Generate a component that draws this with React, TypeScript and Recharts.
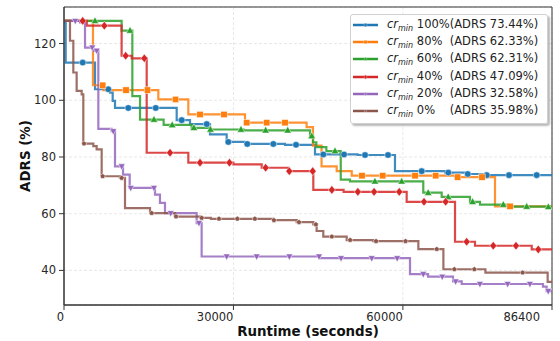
import React from 'react'
import { ComposedChart, Line, XAxis, YAxis, CartesianGrid, Legend, ReferenceArea } from 'recharts'

type Pt = [number, number]

const FONT = '"DejaVu Sans", sans-serif'

const xTicks = [0, 30000, 60000, 86400]
const yTicks = [40, 60, 80, 100, 120]
const yDomain: [number, number] = [27.8, 132.9]

// legend labels, padded like the original so "(ADRS" lines up
const crLevels = ['100%', '80%  ', '60%  ', '40%  ', '20%  ', '0%    ']
const adrsFinal = ['73.44%', '62.33%', '62.31%', '47.09%', '32.58%', '35.98%']

// step breakpoints [runtime s, ADRS %]
const blueSteps: Pt[] = [
  [0, 127.4], [300, 113.3], [5490, 103.9], [8140, 102.7], [8620, 99.8], [9030, 97.3],
  [19950, 93.0], [22310, 91.6], [25850, 88.0], [28800, 85.3], [32050, 84.6], [39130, 84.3],
  [44440, 80.9], [52000, 80.7], [58600, 75.0], [67500, 74.5], [71300, 74.0], [74700, 73.6],
  [86400, 73.44],
]
const blueMarks: Pt[] = [
  [3310, 113.3], [7840, 103.9], [11380, 97.3], [16240, 97.3], [20840, 93.0], [25270, 91.6],
  [29090, 85.3], [32450, 84.6], [37060, 84.6], [41080, 84.3], [45910, 80.9], [49580, 80.9],
  [53300, 80.7], [57370, 80.7], [63330, 75.0], [68040, 74.5], [71480, 74.0], [74840, 73.6],
  [78790, 73.6], [83690, 73.6],
]

const orangeSteps: Pt[] = [
  [0, 128], [5130, 105.3], [7000, 103.6], [16700, 100.3], [22010, 95.0], [32050, 92.1],
  [42950, 90.5], [44080, 84.0], [45600, 76.7], [48280, 75.0], [50940, 73.4], [69230, 72.9],
  [76310, 62.6], [86400, 62.33],
]
const orangeMarks: Pt[] = [
  [6850, 105.3], [10980, 103.6], [14780, 103.6], [19740, 100.3], [24080, 95.0], [28330, 95.0],
  [32350, 92.1], [35890, 92.1], [39130, 92.1], [52760, 73.4], [56430, 73.4], [62150, 73.4],
  [65810, 73.4], [69700, 72.9], [74010, 72.9], [78970, 62.6],
]

const greenSteps: Pt[] = [
  [0, 128], [10200, 124.6], [12100, 101.5], [13460, 93.2], [17640, 91.3], [22600, 90.3],
  [25850, 89.7], [31800, 89.4], [43560, 87.4], [44090, 85.2], [44680, 83.5], [46450, 82.1],
  [49000, 72.0], [50640, 71.4], [63610, 67.4], [66870, 65.9], [71880, 64.2], [73650, 63.2],
  [79000, 62.5], [86400, 62.31],
]
const greenMarks: Pt[] = [
  [5490, 128], [11690, 124.6], [15930, 93.2], [19160, 91.3], [23000, 90.3], [25930, 89.7],
  [31330, 89.7], [35700, 89.4], [39600, 89.4], [43860, 87.4], [47980, 82.1], [55050, 71.4],
  [59780, 71.4], [64480, 67.4], [68020, 65.9], [72340, 64.2], [77780, 63.2], [81920, 62.5],
  [85750, 62.4],
]

const redSteps: Pt[] = [
  [0, 128], [4040, 126.3], [10200, 115.7], [11990, 114.8], [14640, 81.5], [22010, 78.0],
  [30000, 77.4], [35000, 76.2], [39710, 75.0], [44140, 68.4], [49500, 67.7], [60670, 64.2],
  [69230, 50.1], [72770, 48.7], [82810, 47.4], [86400, 47.09],
]
const redMarks: Pt[] = [
  [3310, 128], [7140, 126.3], [10920, 115.7], [14220, 114.8], [18770, 81.5], [24080, 78.0],
  [29290, 78.0], [35700, 76.2], [39890, 75.0], [44030, 75.0], [47420, 68.4], [52020, 67.7],
  [54900, 67.7], [59360, 67.7], [63740, 64.2], [67570, 64.2], [71290, 50.1], [76000, 48.7],
  [80020, 48.7], [83970, 47.4],
]

const purpleSteps: Pt[] = [
  [0, 128], [2830, 127.5], [3720, 118.6], [5190, 117.5], [6080, 89.9], [8440, 89.1],
  [9030, 76.7], [10450, 73.8], [11630, 69.1], [16110, 66.7], [16990, 63.8], [17880, 60.2],
  [23490, 56.7], [24370, 44.9], [45320, 44.3], [61260, 38.7], [64450, 37.8], [68880, 36.1],
  [70420, 35.2], [84800, 34.3], [85450, 32.7], [86400, 32.58],
]
const purpleMarks: Pt[] = [
  [2000, 128], [5000, 118.6], [5790, 117.5], [8730, 89.1], [10210, 76.7], [11810, 69.1],
  [15930, 69.1], [18890, 60.2], [23900, 56.7], [28800, 44.9], [34110, 44.9], [39900, 44.9],
  [45150, 44.9], [49050, 44.3], [54480, 44.3], [58990, 44.3], [63610, 38.7], [66970, 37.8],
  [69340, 36.1], [73640, 35.2], [78540, 35.2], [82490, 35.2], [85730, 32.7],
]

const brownSteps: Pt[] = [
  [0, 128], [1060, 121.0], [1650, 109.8], [2240, 103.3], [3130, 102.1], [3420, 84.7],
  [5190, 83.8], [5780, 82.7], [6670, 73.2], [9900, 72.6], [10800, 62.0], [15230, 60.2],
  [19660, 59.0], [24080, 58.5], [26000, 58.2], [37060, 57.7], [41200, 57.0], [44140, 56.2],
  [44730, 53.9], [45910, 51.9], [50050, 50.7], [54760, 50.3], [62740, 47.5], [67170, 40.4],
  [74610, 39.2], [85630, 35.98], [86400, 35.98],
]
const brownMarks: Pt[] = [
  [3540, 84.7], [6850, 73.2], [10210, 72.6], [15530, 60.2], [19830, 59.0], [24380, 58.5],
  [27440, 58.2], [30690, 58.2], [33790, 58.2], [37170, 57.7], [41610, 57.0], [44600, 56.2],
  [47420, 51.9], [50660, 50.7], [55250, 50.3], [60470, 50.3], [66000, 47.5], [69110, 40.4],
  [72650, 40.4], [81200, 39.2],
]

type Shape = 'circle' | 'square' | 'triangle' | 'diamond' | 'triDown' | 'pentagon'

const series = [
  { key: 'c100', color: '#1f77b4', shape: 'circle' as Shape, steps: blueSteps, marks: blueMarks },
  { key: 'c80', color: '#ff7f0e', shape: 'square' as Shape, steps: orangeSteps, marks: orangeMarks },
  { key: 'c60', color: '#2ca02c', shape: 'triangle' as Shape, steps: greenSteps, marks: greenMarks },
  { key: 'c40', color: '#d62728', shape: 'diamond' as Shape, steps: redSteps, marks: redMarks },
  { key: 'c20', color: '#9467bd', shape: 'triDown' as Shape, steps: purpleSteps, marks: purpleMarks },
  { key: 'c0', color: '#8c564b', shape: 'pentagon' as Shape, steps: brownSteps, marks: brownMarks },
].map((s, i) => ({
  ...s,
  level: crLevels[i],
  adrs: adrsFinal[i],
  stepData: s.steps.map(([t, v]) => ({ t, v })),
  markData: s.marks.map(([t, v]) => ({ t, v })),
}))

function Marker({ cx, cy, color, shape, k = 1 }: { cx: number; cy: number; color: string; shape: Shape; k?: number }) {
  if (cx == null || cy == null || isNaN(cx) || isNaN(cy)) return null
  const common = { fill: color, stroke: '#fff', strokeWidth: 0.5 * k }
  switch (shape) {
    case 'circle':
      return <circle cx={cx} cy={cy} r={3.3 * k} {...common} />
    case 'square':
      return <rect x={cx - 3.2 * k} y={cy - 3.2 * k} width={6.4 * k} height={6.4 * k} {...common} />
    case 'triangle':
      return (
        <polygon
          points={`${cx},${cy - 4 * k} ${cx - 3.8 * k},${cy + 2.7 * k} ${cx + 3.8 * k},${cy + 2.7 * k}`}
          {...common}
        />
      )
    case 'diamond':
      return (
        <polygon
          points={`${cx},${cy - 4.3 * k} ${cx + 3.5 * k},${cy} ${cx},${cy + 4.3 * k} ${cx - 3.5 * k},${cy}`}
          {...common}
        />
      )
    case 'triDown':
      return (
        <polygon
          points={`${cx},${cy + 3.8 * k} ${cx - 3.4 * k},${cy - 2.5 * k} ${cx + 3.4 * k},${cy - 2.5 * k}`}
          {...common}
        />
      )
    default: {
      const r = 2.7 * k
      const pts = [0, 1, 2, 3, 4]
        .map((j) => {
          const a = -Math.PI / 2 + (j * 2 * Math.PI) / 5
          return `${cx + r * Math.cos(a)},${cy + r * Math.sin(a)}`
        })
        .join(' ')
      return <polygon points={pts} {...common} />
    }
  }
}

const XTick = (props: any) => {
  const { x, y, payload } = props
  return (
    <text x={x} y={y} dy="0.72em" textAnchor="end" fontSize={11.5} fill="#262626" fontFamily={FONT}>
      {payload.value}
    </text>
  )
}

const YLabel = (props: any) => {
  const vb = props.viewBox || { x: 0, y: 7, width: 64, height: 298 }
  const cx = vb.x + 25
  const cy = vb.y + vb.height / 2
  return (
    <text
      x={cx}
      y={cy}
      transform={`rotate(-90 ${cx} ${cy})`}
      textAnchor="middle"
      dominantBaseline="central"
      fontSize={13.4}
      fontWeight="bold"
      fill="#111"
      fontFamily={FONT}
    >
      ADRS (%)
    </text>
  )
}

const LegendBox = () => (
  <div
    style={{
      width: 198,
      boxSizing: 'border-box',
      background: 'rgba(255,255,255,0.9)',
      border: '1px solid #d0d0d0',
      borderRadius: 3,
      boxShadow: '2px 2px 2px rgba(0,0,0,0.28)',
      padding: '1px 4px 3px 2px',
      fontFamily: FONT,
      fontSize: 11.5,
      color: '#222',
    }}
  >
    {series.map((s) => (
      <div key={s.key} style={{ display: 'flex', alignItems: 'center', height: 17.3 }}>
        <svg width={25} height={10} style={{ marginRight: 9, flex: 'none' }}>
          <line x1={0} y1={5} x2={25} y2={5} stroke={s.color} strokeWidth={2.5} />
          <Marker cx={12.5} cy={5} color={s.color} shape={s.shape} k={0.5} />
        </svg>
        <span style={{ whiteSpace: 'pre', lineHeight: '17px' }}>
          <i>cr</i>
          <i style={{ fontSize: 8, position: 'relative', top: 3 }}>min</i>
          {` ${s.level}(ADRS ${s.adrs})`}
        </span>
      </div>
    ))}
  </div>
)

export default function App() {
  return (
    <div style={{ position: 'absolute', left: 0, top: 0, width: 560, height: 341, background: '#fff' }}>
      <ComposedChart width={560} height={341} margin={{ top: 7, right: 8, bottom: 0, left: 0 }}>
        <CartesianGrid stroke="#e2e2e2" strokeDasharray="3 2" strokeWidth={0.8} />
        <XAxis
          type="number"
          dataKey="t"
          domain={[0, 86400]}
          ticks={xTicks}
          allowDataOverflow
          height={36}
          tickSize={5}
          tickMargin={3}
          tick={<XTick />}
          axisLine={{ stroke: '#333' }}
          tickLine={{ stroke: '#333' }}
          label={{
            value: 'Runtime (seconds)',
            position: 'insideBottom',
            offset: 5,
            fontSize: 13.4,
            fontWeight: 'bold',
            fill: '#111',
            fontFamily: FONT,
          }}
        />
        <YAxis
          type="number"
          domain={yDomain}
          ticks={yTicks}
          allowDataOverflow
          width={64}
          tickSize={5}
          tickMargin={3}
          tick={{ fontSize: 11.5, fill: '#262626', fontFamily: FONT }}
          axisLine={{ stroke: '#333' }}
          tickLine={{ stroke: '#333' }}
          label={YLabel}
        />
        <ReferenceArea x1={0} x2={86400} y1={yDomain[0]} y2={yDomain[1]} fill="none" stroke="#333" strokeWidth={1} />
        {series.flatMap((s) => [
          <Line
            key={s.key + '-line'}
            data={s.stepData}
            dataKey="v"
            type="stepAfter"
            stroke={s.color}
            strokeOpacity={0.85}
            strokeWidth={2.2}
            dot={false}
            activeDot={false}
            isAnimationActive={false}
          />,
          <Line
            key={s.key + '-marks'}
            data={s.markData}
            dataKey="v"
            stroke="none"
            dot={(p: any) => (
              <Marker key={`${s.key}-m-${p.index}`} cx={p.cx} cy={p.cy} color={s.color} shape={s.shape} />
            )}
            activeDot={false}
            isAnimationActive={false}
          />,
        ])}
        <Legend
          layout="horizontal"
          verticalAlign="middle"
          align="center"
          content={() => <LegendBox />}
          wrapperStyle={{ position: 'absolute', left: 350, top: 14, width: 'auto', height: 'auto' }}
        />
      </ComposedChart>
    </div>
  )
}
